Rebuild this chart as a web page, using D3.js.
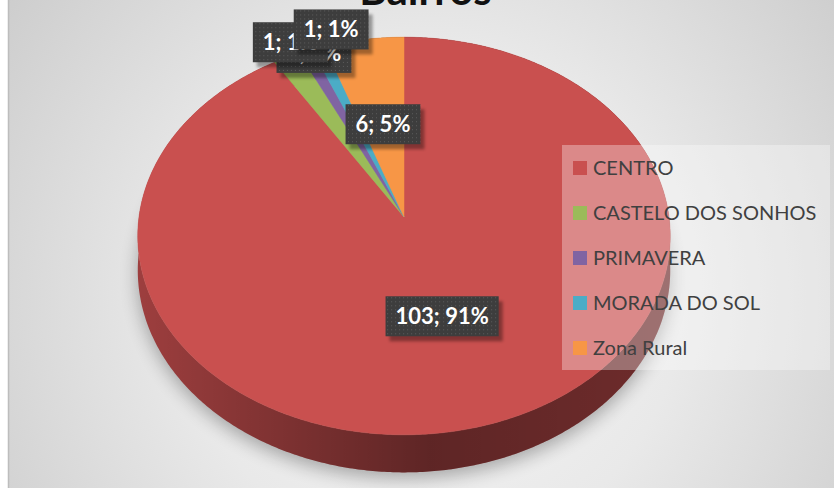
<!DOCTYPE html>
<html>
<head>
<meta charset="utf-8">
<script src="https://cdn.jsdelivr.net/npm/d3@7"></script>
<style>
  body { margin: 0; background: #fff; }
  svg { display: block; }
</style>
</head>
<body>
<div id="chart"></div>
<script>
const width = 834;
const height = 488;

// data
const bairros = ["CENTRO", "CASTELO DOS SONHOS", "PRIMAVERA", "MORADA DO SOL", "Zona Rural"];
const counts = [103, 2, 1, 1, 6];
const colors = ["#c9504f", "#9bbb59", "#8064a2", "#4bacc6", "#f79646"];
const title = "Bairros";

// 3d pie geometry (tilted disc with a bit of perspective)
const cx = 404, cy = 217, rx = 265, ry = 197, persp = 0.0955, depth = 34;

function proj(angle, r, z) {
    var u = r * Math.sin(angle);
    var v = -r * Math.cos(angle);
    var w = 1 - persp * v;
    return [cx + rx * u / w, cy + (ry * v + depth * z) / w];
}

function rim(a0, a1, z) {
    var n = Math.max(2, Math.ceil((a1 - a0) / 0.01));
    return d3.range(n + 1).map(function(i) { return proj(a0 + (a1 - a0) * i / n, 1, z); });
}

var line = d3.line().curve(d3.curveLinear);

var data = bairros.map(function(b, i) { return { name: b, value: counts[i], color: colors[i] }; });
var total = d3.sum(counts);
var pie = d3.pie().value(function(d) { return d.value; }).sort(null);
var arcs = pie(data);

var svg = d3.select("#chart").append("svg")
    .attr("width", width)
    .attr("height", height);

var defs = svg.append("defs");

// background gradient
var bg = defs.append("radialGradient").attr("id", "bg")
    .attr("gradientUnits", "userSpaceOnUse")
    .attr("cx", 430).attr("cy", 300).attr("r", 560);
bg.append("stop").attr("offset", 0).attr("stop-color", "#f6f6f6");
bg.append("stop").attr("offset", 0.45).attr("stop-color", "#e9e9e9");
bg.append("stop").attr("offset", 1).attr("stop-color", "#c9c9c9");

// side shading
var sh = defs.append("linearGradient").attr("id", "sideShade")
    .attr("gradientUnits", "userSpaceOnUse")
    .attr("x1", cx - rx).attr("x2", cx + rx).attr("y1", 0).attr("y2", 0);
sh.append("stop").attr("offset", 0).attr("stop-color", "#000").attr("stop-opacity", 0);
sh.append("stop").attr("offset", 0.2).attr("stop-color", "#000").attr("stop-opacity", 0.15);
sh.append("stop").attr("offset", 0.55).attr("stop-color", "#000").attr("stop-opacity", 0.4);
sh.append("stop").attr("offset", 1).attr("stop-color", "#000").attr("stop-opacity", 0.3);

defs.append("filter").attr("id", "blur").attr("x", "-20%").attr("y", "-20%").attr("width", "140%").attr("height", "140%")
    .append("feGaussianBlur").attr("stdDeviation", 9);
defs.append("filter").attr("id", "soft").attr("x", "-20%").attr("y", "-20%").attr("width", "140%").attr("height", "140%")
    .append("feGaussianBlur").attr("stdDeviation", 1.5);

// dotted texture for the data labels
var pat = defs.append("pattern").attr("id", "dots")
    .attr("patternUnits", "userSpaceOnUse").attr("width", 4).attr("height", 4);
pat.append("rect").attr("width", 4).attr("height", 4).attr("fill", "#3d3d3d");
pat.append("rect").attr("x", 1).attr("y", 1).attr("width", 1).attr("height", 1).attr("fill", "#5c5c5c");

// chart area
svg.append("rect").attr("width", width).attr("height", height).attr("fill", "#fff");
svg.append("rect").attr("x", 8).attr("y", -2).attr("width", width).attr("height", height + 4)
    .attr("fill", "url(#bg)");
svg.append("line").attr("x1", 8.5).attr("x2", 8.5).attr("y1", 0).attr("y2", height)
    .attr("stroke", "#bdbdbd").attr("stroke-width", 1.5);

// title (cut at the top like the original)
svg.append("text")
    .attr("x", 425.5)
    .attr("y", 5)
    .attr("text-anchor", "middle")
    .style("font-family", "Lato, 'Open Sans', sans-serif")
    .style("font-weight", "bold")
    .style("font-size", "42px")
    .attr("fill", "#111")
    .text(title);

// drop shadow under the pie
var shadowPts = rim(0, 2 * Math.PI, 1).map(function(p) { return [p[0], p[1] + 6]; });
svg.append("path")
    .attr("d", line(shadowPts) + "Z")
    .attr("fill", "#000")
    .attr("opacity", 0.3)
    .attr("filter", "url(#blur)");

var g = svg.append("g");

// sides
arcs.forEach(function(d) {
    var pts = rim(d.startAngle, d.endAngle, 0).concat(rim(d.startAngle, d.endAngle, 1).reverse());
    var path = line(pts) + "Z";
    g.append("path").attr("d", path).attr("fill", d3.color(d.data.color).darker(0.7));
    g.append("path").attr("d", path).attr("fill", "url(#sideShade)");
});

// top faces
g.selectAll("path.face")
    .data(arcs)
    .enter()
    .append("path")
    .attr("class", "face")
    .attr("d", function(d) {
        return line([proj(0, 0, 0)].concat(rim(d.startAngle, d.endAngle, 0))) + "Z";
    })
    .attr("fill", function(d) { return d.data.color; })
    .attr("stroke", function(d) { return d.data.color; })
    .attr("stroke-width", 0.5);

// legend
var legend = svg.append("g");
legend.append("rect")
    .attr("x", 562).attr("y", 145).attr("width", 268).attr("height", 225)
    .attr("fill", "#fff").attr("opacity", 0.33);

var items = legend.selectAll("g.item")
    .data(data)
    .enter()
    .append("g")
    .attr("class", "item")
    .attr("transform", function(d, i) { return "translate(573," + (168 + i * 45) + ")"; });
items.append("rect")
    .attr("x", 0).attr("y", -7).attr("width", 14).attr("height", 14)
    .attr("fill", function(d) { return d.color; });
items.append("text")
    .attr("x", 20)
    .attr("dy", "0.35em")
    .style("font-family", "Lato, 'Open Sans', sans-serif")
    .style("font-size", "20px")
    .attr("fill", "#404040")
    .text(function(d) { return d.name; });

// data labels: big slices inside, thin ones pushed out and nudged like Excel did
var labelNudge = { "CASTELO DOS SONHOS": [38, 10], "PRIMAVERA": [-6, 6], "MORADA DO SOL": [21, -3] };
var labels = svg.append("g");
arcs.forEach(function(d) {
    var mid = (d.startAngle + d.endAngle) / 2;
    var big = (d.endAngle - d.startAngle) > 0.2;
    var p = proj(mid, big ? 0.5 : 1.1, 0);
    var n = labelNudge[d.data.name] || [0, 0];
    var x = p[0] + n[0], y = p[1] + n[1];
    var txt = d.data.value + "; " + Math.round(d.data.value / total * 100) + "%";

    var lg = labels.append("g").attr("transform", "translate(" + x + "," + y + ")");
    var t = lg.append("text")
        .attr("text-anchor", "middle")
        .attr("dy", "0.36em")
        .style("font-family", "Lato, 'Open Sans', sans-serif")
        .style("font-weight", "bold")
        .style("font-size", "22px")
        .attr("fill", "#fff")
        .text(txt);
    var w = t.node().getComputedTextLength() + 20, h = 40;
    lg.insert("rect", "text")
        .attr("x", -w / 2 + 4).attr("y", -h / 2 + 5).attr("width", w).attr("height", h)
        .attr("fill", "#000").attr("opacity", 0.35).attr("filter", "url(#soft)");
    lg.insert("rect", "text")
        .attr("x", -w / 2).attr("y", -h / 2).attr("width", w).attr("height", h)
        .attr("fill", "url(#dots)");
});
</script>
</body>
</html>
